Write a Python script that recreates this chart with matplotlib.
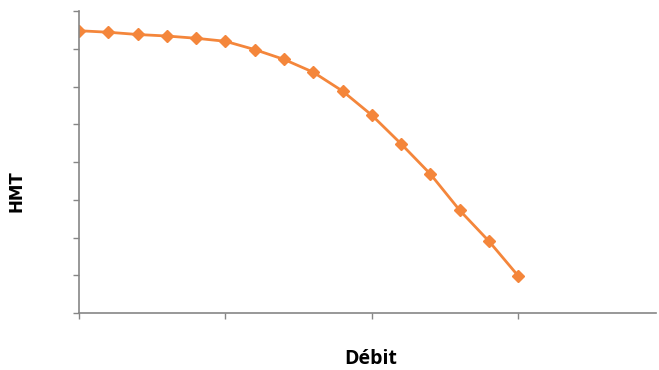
import matplotlib.pyplot as plt
import numpy as np

# pump curve (x = flow index, y = head)
debit = list(range(16))
hmt = [37.4, 37.2, 36.9, 36.7, 36.4, 36.0, 34.9, 33.6, 31.9, 29.4,
       26.2, 22.4, 18.4, 13.6, 9.5, 4.9]

color = '#F4863B'
grey = '#868686'

fig = plt.figure(figsize=(6.59, 3.70), dpi=100)
ax = fig.add_axes([0.1199, 0.154, 0.8755, 0.816])

ax.plot(debit, hmt, '-', color=color, linewidth=2, marker='D',
        markersize=6.5, markerfacecolor=color, markeredgecolor=color)

ax.set_xlim(0, 19.7)
ax.set_ylim(0, 40)
ax.set_xticks([0, 5, 10, 15])
ax.set_yticks(np.arange(0, 41, 5))
ax.set_xticklabels([])
ax.set_yticklabels([])

for s in ['top', 'right']:
    ax.spines[s].set_visible(False)
for s in ['left', 'bottom']:
    ax.spines[s].set_color(grey)
    ax.spines[s].set_linewidth(1.2)
ax.tick_params(colors=grey, length=4, width=1)

# axis titles placed where the reference has them
fig.text(371 / 659, 1 - 359 / 370, 'Débit', fontsize=14, fontweight='bold',
         family='Open Sans', ha='center', va='center')
fig.text(16.5 / 659, 1 - 191.5 / 370, 'HMT', fontsize=12, fontweight='bold',
         family='DejaVu Sans', rotation=90, ha='center', va='center')

fig.savefig('out.png', dpi=100)
